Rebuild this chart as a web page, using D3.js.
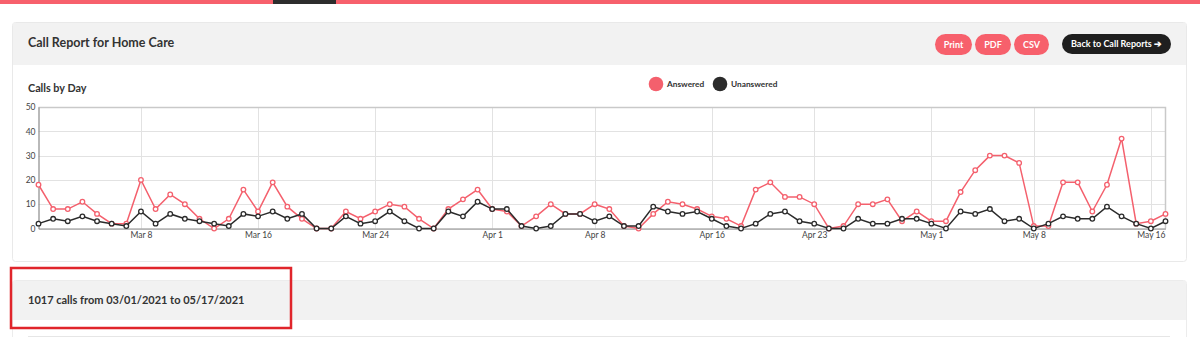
<!DOCTYPE html>
<html><head><meta charset="utf-8">
<script src="https://cdn.jsdelivr.net/npm/d3@7"></script>
<style>
body{margin:0;background:#fff;}
svg{display:block;font-family:Lato,'Open Sans',sans-serif;}
</style>
</head><body>
<svg id="c" width="1200" height="337"></svg>
<script>
// ---------- data ----------
const startDate = "2021-03-01";
const endDate = "2021-05-17";
const answered = [
  18,8,8,11,6,2,2,20,8,14,10,4,0,4,16,7,19,9,4,0,0,7,4,7,10,9,4,0,8,12,16,
  8,7,1,5,10,6,6,10,8,1,0,6,11,10,8,5,4,1,16,19,13,13,10,0,1,10,10,12,3,7,
  3,3,15,24,30,30,27,1,1,19,19,7,18,37,2,3,6
];
const unanswered = [
  2,4,3,5,3,2,1,7,2,6,4,3,2,1,6,5,7,4,6,0,0,5,2,3,7,3,0,0,7,5,11,
  8,8,1,0,1,6,6,3,5,1,1,9,7,6,7,4,1,0,2,6,7,3,2,0,0,4,2,2,4,4,
  2,0,7,6,8,3,4,0,2,5,4,4,9,5,2,0,3
];
const yTicks = [0,10,20,30,40,50];
const xTickDates = ["2021-03-08","2021-03-16","2021-03-24","2021-04-01","2021-04-08",
                    "2021-04-16","2021-04-23","2021-05-01","2021-05-08","2021-05-16"];
const seriesNames = ["Answered","Unanswered"];
const seriesColors = ["#f4606d","#2b2b2b"];
const buttonLabels = ["Print","PDF","CSV"];
const backLabel = "Back to Call Reports \u2794";
const pageTitle = "Call Report for Home Care";
const chartTitle = "Calls by Day";
const summaryText = "1017 calls from 03/01/2021 to 05/17/2021";

// ---------- page ----------
const svg = d3.select("#c");
const pink = "#f7606c";

svg.append("rect").attr("x",0).attr("y",0).attr("width",1200).attr("height",4).attr("fill",pink);
svg.append("rect").attr("x",273).attr("y",0).attr("width",63).attr("height",4).attr("fill","#2d2d2d");

// panel 1
svg.append("rect").attr("x",12.5).attr("y",22.5).attr("width",1174).attr("height",239)
  .attr("rx",3).attr("fill","#fff").attr("stroke","#e9e9e9");
svg.append("rect").attr("x",13).attr("y",23).attr("width",1173).attr("height",42).attr("fill","#f2f2f2");
svg.append("text").attr("x",28).attr("y",46.5).attr("font-size",12.5).attr("font-weight",700)
  .attr("fill","#333").text(pageTitle);

// buttons
const btnX = [935,975,1014], btnW = [37,36,35];
buttonLabels.forEach((b,i)=>{
  svg.append("rect").attr("x",btnX[i]).attr("y",34).attr("width",btnW[i]).attr("height",21)
    .attr("rx",10.5).attr("fill",pink);
  svg.append("text").attr("x",btnX[i]+btnW[i]/2).attr("y",47.5).attr("text-anchor","middle")
    .attr("font-size",9).attr("font-weight",700).attr("fill","#fff").text(b);
});
svg.append("rect").attr("x",1062).attr("y",34).attr("width",109).attr("height",20)
  .attr("rx",10).attr("fill","#1f1f1f");
svg.append("text").attr("x",1116.5).attr("y",47).attr("text-anchor","middle")
  .attr("font-size",9).attr("font-weight",700).attr("fill","#fff").text(backLabel);

// chart title
svg.append("text").attr("x",28).attr("y",92).attr("font-size",10.8).attr("font-weight",700)
  .attr("fill","#333").text(chartTitle);

// legend
const legX = [656,720];
seriesNames.forEach((n,i)=>{
  svg.append("circle").attr("cx",legX[i]).attr("cy",84).attr("r",7.3).attr("fill",seriesColors[i]);
  svg.append("text").attr("x",legX[i]+11).attr("y",87).attr("font-size",8.3).attr("font-weight",700)
    .attr("fill","#333").text(n);
});

// ---------- chart ----------
const parse = d3.utcParse("%Y-%m-%d");
const start = parse(startDate), end = parse(endDate);
const days = d3.utcDay.range(start, d3.utcDay.offset(end,1));
const x = d3.scaleUtc().domain([start,end]).range([38.5,1165.5]);
const y = d3.scaleLinear().domain([0,50]).range([228.5,107]);

const g = svg.append("g");
// grid
g.selectAll(".hg").data(yTicks).join("line")
  .attr("x1",38.5).attr("x2",1165.5).attr("y1",d=>Math.round(y(d))+0.5).attr("y2",d=>Math.round(y(d))+0.5)
  .attr("stroke","#e2e2e2");
g.selectAll(".vg").data(xTickDates.map(parse)).join("line")
  .attr("x1",d=>Math.round(x(d))+0.5).attr("x2",d=>Math.round(x(d))+0.5).attr("y1",107).attr("y2",228.5)
  .attr("stroke","#e2e2e2");
// border top/right
g.append("path").attr("d",`M38.5,107.5H1165.5V228.5`).attr("fill","none").attr("stroke","#c9c9c9").attr("stroke-width",1.5);

// axes
const ya = g.append("g").attr("transform","translate(38.5,0)")
  .call(d3.axisLeft(y).tickValues(yTicks).tickSize(0).tickPadding(3));
ya.select(".domain").attr("stroke","#8a8a8a").attr("stroke-width",1.2);
ya.selectAll("text").attr("font-family","Lato,'Open Sans',sans-serif").attr("font-size",8.5).attr("fill","#444");

const xa = g.append("g").attr("transform","translate(0,228.5)")
  .call(d3.axisBottom(x).tickValues(xTickDates.map(parse)).tickFormat(d3.utcFormat("%b %-d")).tickSize(0).tickPadding(3));
xa.select(".domain").attr("stroke","#8a8a8a").attr("stroke-width",1.2);
xa.selectAll("text").attr("font-family","Lato,'Open Sans',sans-serif").attr("font-size",8.5).attr("fill","#444");

// series
[answered, unanswered].forEach((vals,si)=>{
  const pts = days.map((d,i)=>({date:d,v:vals[i]}));
  const line = d3.line().x(d=>x(d.date)).y(d=>y(d.v));
  g.append("path").datum(pts).attr("d",line).attr("fill","none")
    .attr("stroke",seriesColors[si]).attr("stroke-width",1.5);
  g.append("g").selectAll("circle").data(pts).join("circle")
    .attr("cx",d=>x(d.date)).attr("cy",d=>y(d.v)).attr("r",2.3)
    .attr("fill","#fff").attr("stroke",seriesColors[si]).attr("stroke-width",1.3);
});

// ---------- panel 2 ----------
svg.append("rect").attr("x",12.5).attr("y",280.5).attr("width",1174).attr("height",70)
  .attr("rx",3).attr("fill","#fff").attr("stroke","#ececec");
svg.append("rect").attr("x",13).attr("y",281).attr("width",1173).attr("height",39).attr("fill","#f2f2f2");
svg.append("line").attr("x1",28).attr("x2",1170).attr("y1",336.5).attr("y2",336.5).attr("stroke","#e6e6e6");
svg.append("text").attr("x",28).attr("y",303.5).attr("font-size",11).attr("font-weight",700)
  .attr("fill","#333").text(summaryText);

// highlight box
svg.append("rect").attr("x",11).attr("y",268).attr("width",280).attr("height",60)
  .attr("fill","none").attr("stroke","#e0252b").attr("stroke-width",2.5);
</script>
</body></html>
